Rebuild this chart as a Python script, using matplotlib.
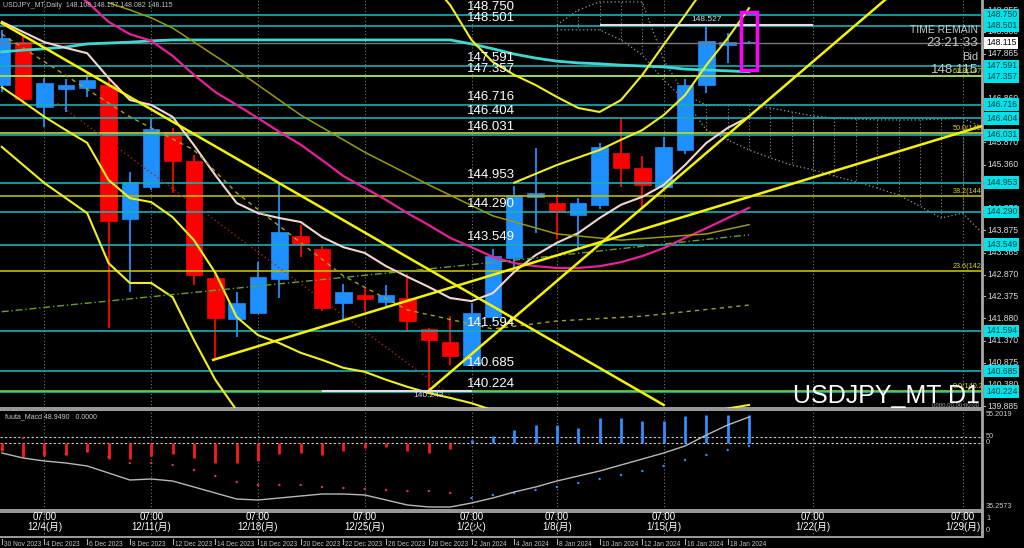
import matplotlib
matplotlib.use('Agg')
import matplotlib.pyplot as plt
import matplotlib.transforms as mtransforms
from matplotlib.patches import Rectangle

plt.rcParams['font.family'] = ['Liberation Sans', 'Noto Sans CJK JP', 'DejaVu Sans']

# ---------------- data ----------------
opens  = [147.16,148.14,146.66,147.06,147.09,147.15,144.12,144.86,146.10,145.43,142.80,141.87,
          142.01,142.76,143.75,143.45,142.23,142.41,142.24,142.33,141.65,141.34,140.82,141.92,
          143.25,144.62,144.49,144.22,144.45,145.62,145.28,144.85,145.69,147.16,148.07,148.108]
highs  = [148.40,148.30,147.33,147.30,147.42,147.30,145.20,146.41,146.18,145.58,142.91,142.48,
          143.16,144.96,143.99,143.54,142.66,142.60,142.63,142.88,141.66,141.93,142.23,143.45,
          144.87,145.73,144.65,144.60,145.85,146.41,145.56,145.99,147.30,148.527,148.34,148.157]
lows   = [147.00,146.70,146.20,146.56,146.88,141.66,142.48,144.78,144.71,142.63,140.97,141.46,
          142.00,142.35,143.26,142.05,141.86,142.05,142.16,141.58,140.243,140.82,140.80,141.80,
          143.00,143.81,143.68,143.43,144.35,144.85,144.35,144.81,145.60,146.99,147.65,148.082]
closes = [148.22,146.84,147.21,147.15,147.27,144.09,144.97,146.16,145.45,142.85,141.89,142.22,
          142.81,143.84,143.56,142.12,142.47,142.32,142.41,141.83,141.40,141.03,141.99,143.28,
          144.67,144.72,144.29,144.49,145.76,145.28,144.90,145.76,147.16,148.16,148.14,148.115]

date_idx = [0, 2, 4, 6, 8, 10, 12, 14, 16, 18, 20, 22, 24, 26, 28, 30, 32, 34]
date_txt = ['30 Nov 2023', '4 Dec 2023', '6 Dec 2023', '8 Dec 2023', '12 Dec 2023', '14 Dec 2023',
            '18 Dec 2023', '20 Dec 2023', '22 Dec 2023', '26 Dec 2023', '28 Dec 2023', '2 Jan 2024',
            '4 Jan 2024', '8 Jan 2024', '10 Jan 2024', '12 Jan 2024', '16 Jan 2024', '18 Jan 2024']

week_idx = [2, 7, 12, 17, 22, 26, 31, 38, 45]
week_txt = ['12/4(月)', '12/11(月)', '12/18(月)', '12/25(月)', '1/2(火)', '1/8(月)',
            '1/15(月)', '1/22(月)', '1/29(月)']

cyan_ma = [147.91,147.95,147.98,148.02,148.09,148.11,148.13,148.16,148.18,148.18,148.18,148.18,
           148.18,148.18,148.18,148.18,148.18,148.18,148.18,148.18,148.18,148.18,148.09,147.98,
           147.86,147.77,147.70,147.66,147.64,147.61,147.59,147.57,147.52,147.50,147.48,147.46]
magenta_ma = [150.20,149.95,149.70,149.42,149.04,148.59,148.31,148.16,147.82,147.39,147.00,146.71,
              146.41,146.10,145.81,145.46,145.10,144.83,144.56,144.26,143.99,143.70,143.49,143.27,
              143.13,143.06,143.02,143.02,143.06,143.15,143.29,143.47,143.70,143.92,144.15,144.38]
pink_ma = [148.59,148.36,148.13,148.00,147.88,147.32,146.82,146.71,146.44,145.80,145.12,144.49,
           144.26,144.15,144.06,143.72,143.49,143.36,143.06,142.82,142.59,142.34,142.27,142.45,
           142.93,143.31,143.59,143.81,144.15,144.45,144.63,144.90,145.35,145.85,146.19,146.44]
bb_lower1 = [147.11,146.78,146.44,146.14,145.85,145.01,144.60,144.51,144.17,143.65,142.91,141.91,
             141.50,141.32,141.10,140.94,140.76,140.67,140.49,140.33,140.19,140.08,139.96,139.80,
             139.60,139.45,139.40,139.38,139.40,139.45,139.50,139.55,139.62,139.72,139.84,139.92]
bb_lower2 = [145.76,145.35,144.94,144.60,144.26,143.13,142.68,142.68,142.36,141.39,140.49,139.80,
             139.50,139.30]
bb_upper1_idx = list(range(20, 34))
bb_upper1 = [149.54,148.97,148.18,147.68,147.39,147.16,146.89,146.64,146.55,146.82,147.39,148.07,
             148.74,149.42]
bb_upper2_idx = list(range(24, 36))
bb_upper2 = [144.95,145.15,145.35,145.52,145.69,145.92,146.14,146.48,146.93,147.61,148.22,148.90]

olive_idx = [5, 6, 7, 8, 11, 14, 17, 20, 23, 26, 29, 33, 35]
olive_ln = [149.02,148.86,148.68,148.45,147.50,146.48,145.64,144.90,144.20,143.79,143.65,143.79,144.00]
olive_dash_idx = [0, 6, 9, 11, 16, 19, 23, 26, 30, 35]
olive_dash = [148.31,146.44,145.69,144.72,142.84,142.07,141.64,141.82,141.93,142.18]
green_dd_idx = [0, 23.3, 35]
green_dd = [142.03, 143.16, 143.77]
red_dot_idx = [2.6, 21]
red_dot = [146.75, 140.15]

tl_down_idx, tl_down = [0, 31], [148.56, 139.92]
tl_up_idx, tl_up = [9.9, 45.9], [140.94, 146.23]
tl_steep_idx, tl_steep = [20, 41.4], [140.243, 149.10]

kumo_idx = list(range(26, 47))
span_a = [148.52,148.86,149.04,149.04,149.04,147.73,146.93,146.71,146.71,146.71,146.64,146.55,
          146.46,146.41,146.39,146.37,146.37,146.37,146.39,146.41,146.19]
span_b = [148.41,148.41,148.41,148.18,147.84,147.27,146.82,146.14,145.92,145.69,145.51,145.35,
          145.24,145.10,144.97,144.83,144.67,144.42,144.15,144.26,143.77]

levels = [148.750,148.501,147.591,147.357,146.716,146.404,146.031,144.953,144.290,143.549,
          141.594,140.685,140.224]
fib_ratio = ['61.8', '50.0', '38.2', '23.6', '0.0']
fib_price = [147.371, 146.069, 144.647, 142.961, 140.243]
fib_color = ['#b4e04a', '#c8d040', '#b8b800', '#c0c000', '#6fd040']

axis_ticks = [148.855,148.360,147.865,146.860,146.365,145.870,145.360,144.865,144.370,
              143.875,143.365,142.870,142.375,141.880,141.370,140.875,140.380,139.885]
bid = 148.115
recent_high = (28, 38, 148.527)
recent_low = (15, 22, 140.243)
box_idx = (34.62, 35.38)
box_price = (147.50, 148.81)

macd_hist = [-8,-14,-13,-12,-9,-16,-16,-13,-11,-15,-20,-20,-18,-11,-10,-12,-8,-5,-4,-8,-10,-6,
             3,7,13,18,18,15,25,25,22,22,27,28,28,28]
macd_dot = [-6,5,-10,-11,-8,-14,-20,-20,-22,-27,-33,-39,-42,-42,-42,-44,-45,-46,-47,-48,-48,-50,
            -55,-52,-50,-47,-44,-40,-36,-32,-28,-23,-17,-12,-7,-3]
macd_line = [-10,-15,-18,-20,-23,-30,-37,-36,-38,-44,-50,-56,-57,-55,-53,-51,-51,-52,-57,-62,-64,-64,
             -60,-55,-49,-44,-38,-33,-28,-22,-16,-10,-3,8,18,26]
macd_levels = [6, 0]

# ---------------- layout ----------------
W, H = 1024.0, 548.0
fig = plt.figure(figsize=(10.24, 5.48), dpi=100, facecolor='black')

def rect(top, bottom):
    return [0, 1 - bottom / H, 982 / W, (bottom - top) / H]

ax = fig.add_axes(rect(0, 408))
axm = fig.add_axes(rect(410, 510))
axl = fig.add_axes(rect(512, 537))
XL = (-0.084, 45.91)
for a in (ax, axm, axl):
    a.set_facecolor('black')
    a.set_xlim(*XL)
    a.set_xticks([])
    a.set_yticks([])
    for s in a.spines.values():
        s.set_color('#a8a8a8')
        s.set_linewidth(1.3)
    a.spines['left'].set_visible(False)
ax.spines['top'].set_visible(False)
ax.set_ylim(139.851, 149.084)
axm.set_ylim(-67, 33)
axl.set_ylim(0, 1)

def ft(xpx, ypx, s, **kw):
    return fig.text(xpx / W, 1 - ypx / H, s, **kw)

n = len(opens)
xs = list(range(n))

# week separators
for a in (ax, axm, axl):
    for w in week_idx:
        a.axvline(w, color='#7a7a7a', ls=(0, (1, 2)), lw=0.8, zorder=1)

# future cloud
ax.plot(kumo_idx, span_a, color='#9a9a9a', ls=(0, (1, 2)), lw=0.9, zorder=2)
ax.plot(kumo_idx, span_b, color='#9a9a9a', ls=(0, (1, 2)), lw=0.9, zorder=2)
ax.vlines(kumo_idx, span_a, span_b, colors='#8a8a8a', linestyles=(0, (1, 2)), lw=0.8, zorder=2)

# candles
body_w = 0.77
for i in xs:
    o, h, l, c = opens[i], highs[i], lows[i], closes[i]
    col = '#1e8fff' if c >= o else '#ff0000'
    ax.vlines(i, l, h, color=col, lw=1.3, zorder=4)
    bot = min(o, c)
    hgt = max(abs(c - o), 0.02)
    ax.add_patch(Rectangle((i - body_w / 2, bot), body_w, hgt, fc=col, ec=col, lw=0.5, zorder=4))

# horizontal level lines
for lv in levels:
    ax.axhline(lv, color='#16b0b0', lw=1.2, zorder=5)
for fp, fc in zip(fib_price, fib_color):
    ax.axhline(fp, color=fc, lw=1.2, zorder=5)
ax.axhline(bid, color='#7a7a7a', lw=1.0, zorder=5)

# indicators
ax.plot(xs, cyan_ma, color='#3fd8d0', lw=2.0, zorder=6)
ax.plot(xs, magenta_ma, color='#e8209a', lw=1.6, zorder=6)
ax.plot(xs, pink_ma, color='#f2d6d2', lw=1.5, zorder=6)
ax.plot(xs, bb_lower1, color='#f0f020', lw=1.5, zorder=6)
ax.plot(range(len(bb_lower2)), bb_lower2, color='#f0f020', lw=1.5, zorder=6)
ax.plot(bb_upper1_idx, bb_upper1, color='#f0f020', lw=1.5, zorder=6)
ax.plot(bb_upper2_idx, bb_upper2, color='#f0f020', lw=1.5, zorder=6)
ax.plot(olive_idx, olive_ln, color='#9a9a10', lw=1.1, zorder=6)
ax.plot(olive_dash_idx, olive_dash, color='#a8a020', lw=1.0, ls=(0, (3, 3)), zorder=6)
ax.plot(green_dd_idx, green_dd, color='#6aa030', lw=1.0, ls=(0, (5, 2, 1, 2)), zorder=6)
ax.plot(red_dot_idx, red_dot, color='#b02020', lw=1.0, ls=(0, (1, 2)), zorder=6)
for tx, ty in ((tl_down_idx, tl_down), (tl_up_idx, tl_up), (tl_steep_idx, tl_steep)):
    ax.plot(tx, ty, color='#f4f400', lw=1.8, zorder=7)

# recent high / low markers
ax.hlines(recent_high[2], recent_high[0], recent_high[1], color='#e0e0e0', lw=1.5, zorder=7)
ax.text((recent_high[0] + recent_high[1]) / 2, recent_high[2] + 0.04, f'{recent_high[2]:.3f}',
        color='#d8d8d8', fontsize=6, ha='center', va='bottom', zorder=8)
ax.hlines(recent_low[2], recent_low[0], recent_low[1], color='#e0e0e0', lw=1.5, zorder=7)
ax.text(20, recent_low[2] - 0.03, f'{recent_low[2]:.3f}', color='#d8d8d8', fontsize=6,
        ha='center', va='top', zorder=8)

# current bar box
ax.add_patch(Rectangle((box_idx[0], box_price[0]), box_idx[1] - box_idx[0],
                       box_price[1] - box_price[0], fill=False, ec='#ff00ff', lw=2.5, zorder=9))

# level labels inside chart
for lv in levels:
    ax.text(21.8, lv + 0.04, f'{lv:.3f}', color='white', fontsize=9.5, ha='left', va='bottom', zorder=9)
for fr, fp in zip(fib_ratio, fib_price):
    ax.text(44.55, fp + 0.02, f'{fr}({fp:.3f})', color='#d8d800', fontsize=5.2, ha='left',
            va='bottom', zorder=9, clip_on=True)

# right price axis
trans = mtransforms.blended_transform_factory(ax.transAxes, ax.transData)
for t in axis_ticks:
    ax.plot([1.0, 1.0 + 3 / 982], [t, t], color='#b0b0b0', lw=0.8, transform=trans, clip_on=False)
    ax.text(1.0 + 5 / 982, t, f'{t:.3f}', color='#d8d8d8', fontsize=6.2, ha='left', va='center',
            transform=trans, clip_on=False)
for lv in levels:
    ax.text(1.0 + 4 / 982, lv, f'{lv:.3f}', color='#0a4040', fontsize=6.2, ha='left', va='center',
            transform=trans, clip_on=False, zorder=10,
            bbox=dict(boxstyle='square,pad=0.2', fc='#00e2ea', ec='none'))
ax.text(1.0 + 4 / 982, bid, f'{bid:.3f}', color='black', fontsize=6.2, ha='left', va='center',
        transform=trans, clip_on=False, zorder=11,
        bbox=dict(boxstyle='square,pad=0.2', fc='white', ec='none'))

# texts on main chart
ft(3, 2, 'USDJPY_MT,Daily  148.108 148.157 148.082 148.115', color='#c0c0c0', fontsize=5,
   ha='left', va='top')
ft(978, 30, 'TIME REMAIN', color='#c8c8c8', fontsize=7.5, ha='right', va='center')
ft(978, 43.5, '23:21:33', color='#c8c8c8', fontsize=9.5, ha='right', va='center')
ft(978, 57, 'Bid', color='#c8c8c8', fontsize=8, ha='right', va='center')
ft(978, 70.5, '148.115', color='#c8c8c8', fontsize=9.5, ha='right', va='center', zorder=12)
ft(980, 403, 'USDJPY_MT D1', color='white', fontsize=18, ha='right', va='baseline')
ft(979, 405.5, '0000.00.00 00:00', color='#a8a8a8', fontsize=4.3, ha='right', va='center')

# MACD panel
for lv in macd_levels:
    axm.axhline(lv, color='#d0d0d0', ls=(0, (2, 2)), lw=0.8, zorder=2)
hcols = ['#ff1a1a' if v < 0 else '#2f8fff' for v in macd_hist]
axm.vlines(xs, 0, macd_hist, colors=hcols, lw=2.0, zorder=3)
dcols = ['#e0304a' if v < 0 else '#2f8fff' for v in macd_hist]
axm.scatter(xs, macd_dot, s=3, c=dcols, zorder=4, linewidths=0)
axm.plot(xs, macd_line, color='#b8b8b8', lw=1.0, zorder=4)
ft(5, 413, 'fuuta_Macd 48.9490   0.0000', color='#c8c8c8', fontsize=5, ha='left', va='top')
for ypx, s in ((415, '55.2019'), (436, '50'), (443, '0'), (507, '35.2573'), (519, '1'), (531, '0')):
    ft(986, ypx, s, color='#c8c8c8', fontsize=5.3, ha='left', va='center')

# label panel
transl = mtransforms.blended_transform_factory(axl.transData, axl.transAxes)
for w, s in zip(week_idx, week_txt):
    axl.text(w, 0.6, '07:00\n' + s, transform=transl, color='white', fontsize=7, ha='center',
             va='center', linespacing=0.9)

# date axis
transf = mtransforms.blended_transform_factory(ax.transData, fig.transFigure)
transf_off = mtransforms.offset_copy(transf, fig=fig, x=2, y=0, units='dots')
for d, s in zip(date_idx, date_txt):
    fig.lines.append(plt.Line2D([d, d], [1 - 539 / H, 1 - 544 / H], transform=transf,
                                color='#b0b0b0', lw=0.8))
    fig.text(d, 1 - 541 / H, s, transform=transf_off,
             color='#c0c0c0', fontsize=4.8, ha='left', va='top')

# right axis vertical line
fig.lines.append(plt.Line2D([982.5 / W, 982.5 / W], [1 - 537 / H, 1.0], transform=fig.transFigure,
                            color='#a8a8a8', lw=1.3))

fig.savefig('out.png', dpi=100, facecolor='black')
